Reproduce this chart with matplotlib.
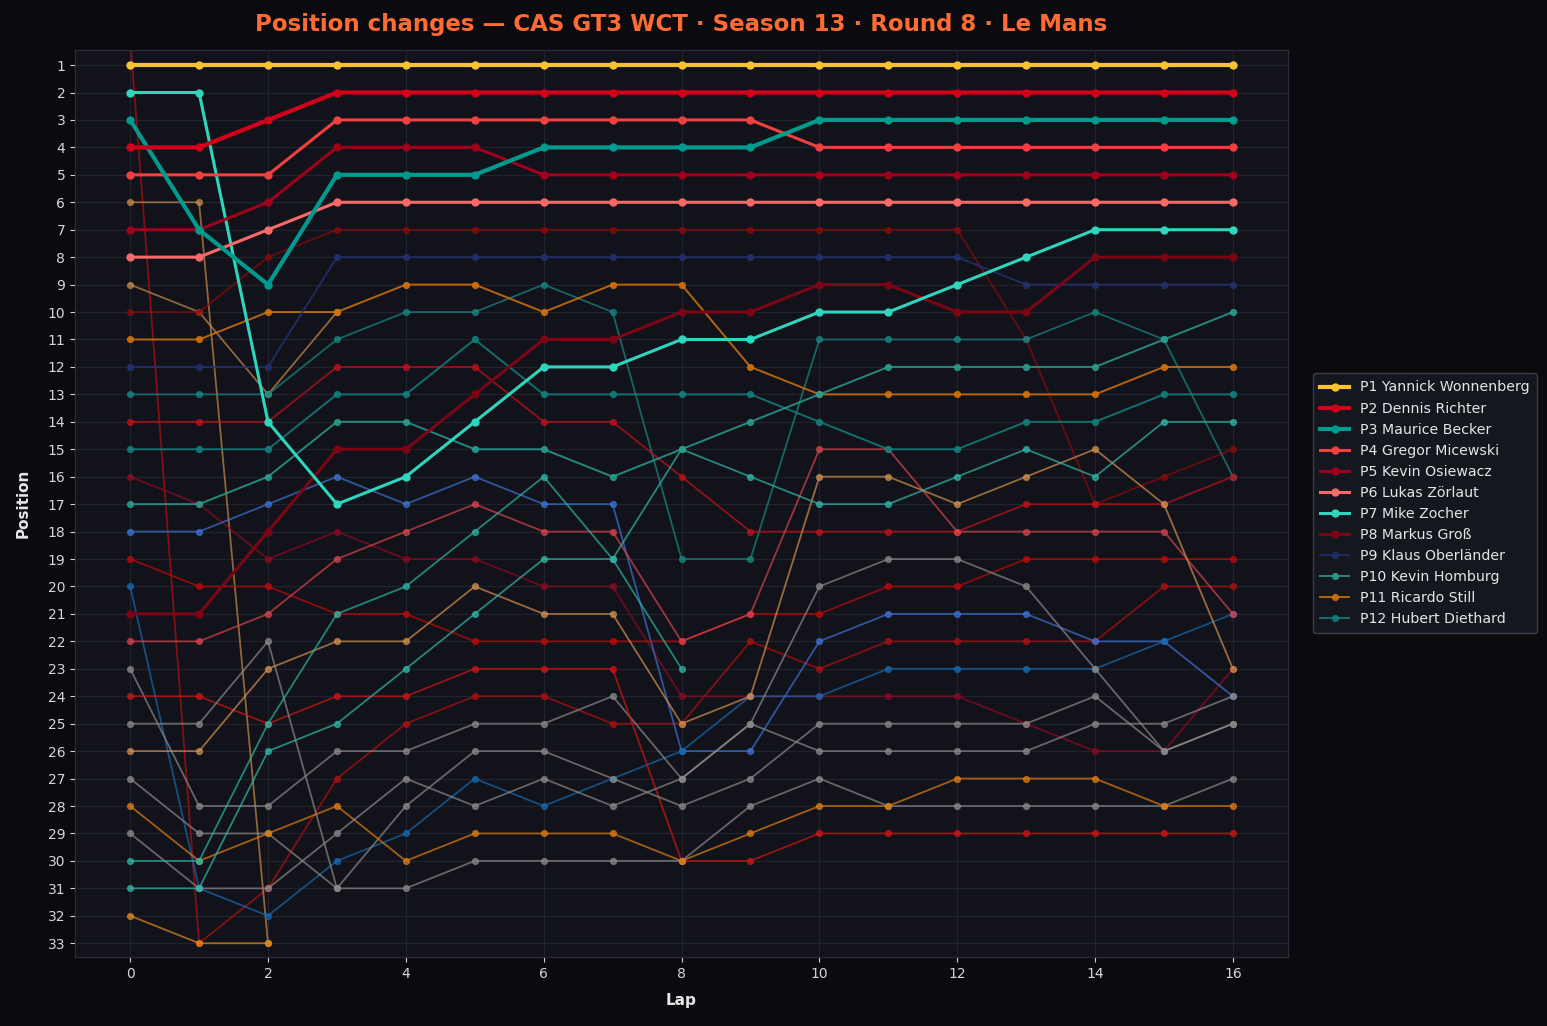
import matplotlib
matplotlib.use("Agg")
import matplotlib.pyplot as plt

laps = list(range(17))

# ---- highlighted drivers (legend) ----
names_top = ["P1 Yannick Wonnenberg", "P2 Dennis Richter", "P3 Maurice Becker",
             "P4 Gregor Micewski", "P5 Kevin Osiewacz", "P6 Lukas Zörlaut",
             "P7 Mike Zocher", "P8 Markus Groß", "P9 Klaus Oberländer",
             "P10 Kevin Homburg", "P11 Ricardo Still", "P12 Hubert Diethard"]
pos_wonnenberg = [1, 1, 1, 1, 1, 1, 1, 1, 1, 1, 1, 1, 1, 1, 1, 1, 1]
pos_richter = [4, 4, 3, 2, 2, 2, 2, 2, 2, 2, 2, 2, 2, 2, 2, 2, 2]
pos_becker = [3, 7, 9, 5, 5, 5, 4, 4, 4, 4, 3, 3, 3, 3, 3, 3, 3]
pos_micewski = [5, 5, 5, 3, 3, 3, 3, 3, 3, 3, 4, 4, 4, 4, 4, 4, 4]
pos_osiewacz = [7, 7, 6, 4, 4, 4, 5, 5, 5, 5, 5, 5, 5, 5, 5, 5, 5]
pos_zorlaut = [8, 8, 7, 6, 6, 6, 6, 6, 6, 6, 6, 6, 6, 6, 6, 6, 6]
pos_zocher = [2, 2, 14, 17, 16, 14, 12, 12, 11, 11, 10, 10, 9, 8, 7, 7, 7]
pos_gross = [21, 21, 18, 15, 15, 13, 11, 11, 10, 10, 9, 9, 10, 10, 8, 8, 8]
pos_oberlaender = [12, 12, 12, 8, 8, 8, 8, 8, 8, 8, 8, 8, 8, 9, 9, 9, 9]
pos_homburg = [17, 17, 16, 14, 14, 15, 15, 16, 15, 14, 13, 12, 12, 12, 12, 11, 10]
pos_still = [11, 11, 10, 10, 9, 9, 10, 9, 9, 12, 13, 13, 13, 13, 13, 12, 12]
pos_diethard = [15, 15, 15, 13, 13, 11, 13, 13, 13, 13, 14, 15, 15, 14, 14, 13, 13]

colors_top = ["#f6c431", "#d4001a", "#009a8e", "#f04040", "#a0001c", "#f86a6a",
              "#2fd6bd", "#7c0515", "#22306e", "#2a9d8f", "#d4720c", "#12807c"]

# ---- other drivers (background) ----
pos_d01 = [0, 33, 31, 27, 25, 24, 24, 25, 25, 22, 23, 22, 22, 22, 22, 20, 20]
pos_d02 = [6, 6, 33]
pos_d03 = [9, 10, 13, 10]
pos_d04 = [10, 10, 8, 7, 7, 7, 7, 7, 7, 7, 7, 7, 7, 11, 17, 16, 15]
pos_d05 = [13, 13, 13, 11, 10, 10, 9, 10, 19, 19, 11, 11, 11, 11, 10, 11, 16]
pos_d06 = [14, 14, 14, 12, 12, 12, 14, 14, 16, 18, 18, 18, 18, 17, 17, 17, 16]
pos_d07 = [16, 17, 19, 18, 19, 19, 20, 20, 24, 24, 24, 24, 24, 25, 26, 26, 23]
pos_d08 = [18, 18, 17, 16, 17, 16, 17, 17, 26, 26, 22, 21, 21, 21, 22, 22, 24]
pos_d09 = [19, 20, 20, 21, 21, 22, 22, 22, 22, 21, 21, 20, 20, 19, 19, 19, 19]
pos_d10 = [20, 31, 32, 30, 29, 27, 28, 27, 26, 24, 24, 23, 23, 23, 23, 22, 21]
pos_d11 = [22, 22, 21, 19, 18, 17, 18, 18, 22, 21, 15, 15, 18, 18, 18, 18, 21]
pos_d12 = [23, 28, 28, 26, 26, 25, 25, 24, 27, 25, 20, 19, 19, 20, 23, 26, 25]
pos_d13 = [24, 24, 25, 24, 24, 23, 23, 23, 30, 30, 29, 29, 29, 29, 29, 29, 29]
pos_d14 = [25, 25, 22, 31, 28, 26, 26, 27, 28, 27, 25, 25, 25, 25, 24, 26, 25]
pos_d15 = [26, 26, 23, 22, 22, 20, 21, 21, 25, 24, 16, 16, 17, 16, 15, 17, 23]
pos_d16 = [27, 29, 29, 31, 31, 30, 30, 30, 30, 28, 27, 28, 28, 28, 28, 28, 27]
pos_d17 = [28, 30, 29, 28, 30, 29, 29, 29, 30, 29, 28, 28, 27, 27, 27, 28, 28]
pos_d18 = [29, 31, 31, 29, 27, 28, 27, 28, 27, 25, 26, 26, 26, 26, 25, 25, 24]
pos_d19 = [30, 30, 25, 21, 20, 18, 16, 19, 23]
pos_d20 = [31, 31, 26, 25, 23, 21, 19, 19, 15, 16, 17, 17, 16, 15, 16, 14, 14]
pos_d21 = [32, 33, 33]

colors_other = ["#b01010", "#c58b4b", "#c58b4b", "#8e0a0a", "#178a85", "#c8101a",
                "#8f0a24", "#3d72d6", "#c00a0a", "#1668b0", "#d8434d", "#8a8a8a",
                "#d01515", "#8a8a8a", "#d09050", "#8a8a8a", "#e07d12", "#8a8a8a",
                "#2ab5a5", "#30b8a8", "#e08a20"]

top_series = [pos_wonnenberg, pos_richter, pos_becker, pos_micewski, pos_osiewacz,
              pos_zorlaut, pos_zocher, pos_gross, pos_oberlaender, pos_homburg,
              pos_still, pos_diethard]
other_series = [pos_d01, pos_d02, pos_d03, pos_d04, pos_d05, pos_d06, pos_d07,
                pos_d08, pos_d09, pos_d10, pos_d11, pos_d12, pos_d13, pos_d14,
                pos_d15, pos_d16, pos_d17, pos_d18, pos_d19, pos_d20, pos_d21]

BG = "#0b0b0f"
AX = "#12131a"
fig = plt.figure(figsize=(15.47, 10.26), dpi=100, facecolor=BG)
ax = fig.add_axes([0.0485, 0.0673, 0.7841, 0.884])
ax.set_facecolor(AX)

for s, c in zip(other_series, colors_other):
    ax.plot(laps[:len(s)], s, color=c, lw=1.3, alpha=0.7, marker="o", ms=4.2, zorder=2)

handles = []
for i in range(len(top_series) - 1, -1, -1):
    s = top_series[i]
    if i < 3:
        lw, ms, al = 3.0, 5.0, 1.0
    elif i < 8:
        lw, ms, al = 2.2, 5.0, 1.0
    else:
        lw, ms, al = 1.4, 4.2, 0.85
    h, = ax.plot(laps[:len(s)], s, color=colors_top[i], lw=lw, alpha=al, marker="o",
                 ms=ms, label=names_top[i], zorder=3 + (12 - i) * 0.01)
    handles.append(h)
handles = handles[::-1]

ax.set_xlim(-0.8, 16.8)
ax.set_ylim(33.5, 0.45)
ax.set_yticks(range(1, 34))
ax.set_xticks(range(0, 17, 2))
ax.grid(True, color="#262833", lw=0.8, alpha=0.8)
ax.set_axisbelow(True)
for sp in ax.spines.values():
    sp.set_color("#2c2e38")
ax.tick_params(colors="#d6d6d6", labelsize=10, length=3.5)
ax.set_xlabel("Lap", color="#e6e6e6", fontsize=11, fontweight="bold", labelpad=9)
ax.set_ylabel("Position", color="#e6e6e6", fontsize=11, fontweight="bold", labelpad=12)
ax.set_title("Position changes — CAS GT3 WCT · Season 13 · Round 8 · Le Mans",
             color="#ff6b35", fontsize=16.5, fontweight="bold", pad=14)

leg = ax.legend(handles=handles, loc="center left", bbox_to_anchor=(1.015, 0.5),
                fontsize=10.2, facecolor="#15171f", edgecolor="#3a3c48",
                labelcolor="#e4e4e4", framealpha=1.0, borderpad=0.5, labelspacing=0.5)

fig.savefig("out.png", dpi=100, facecolor=BG)
